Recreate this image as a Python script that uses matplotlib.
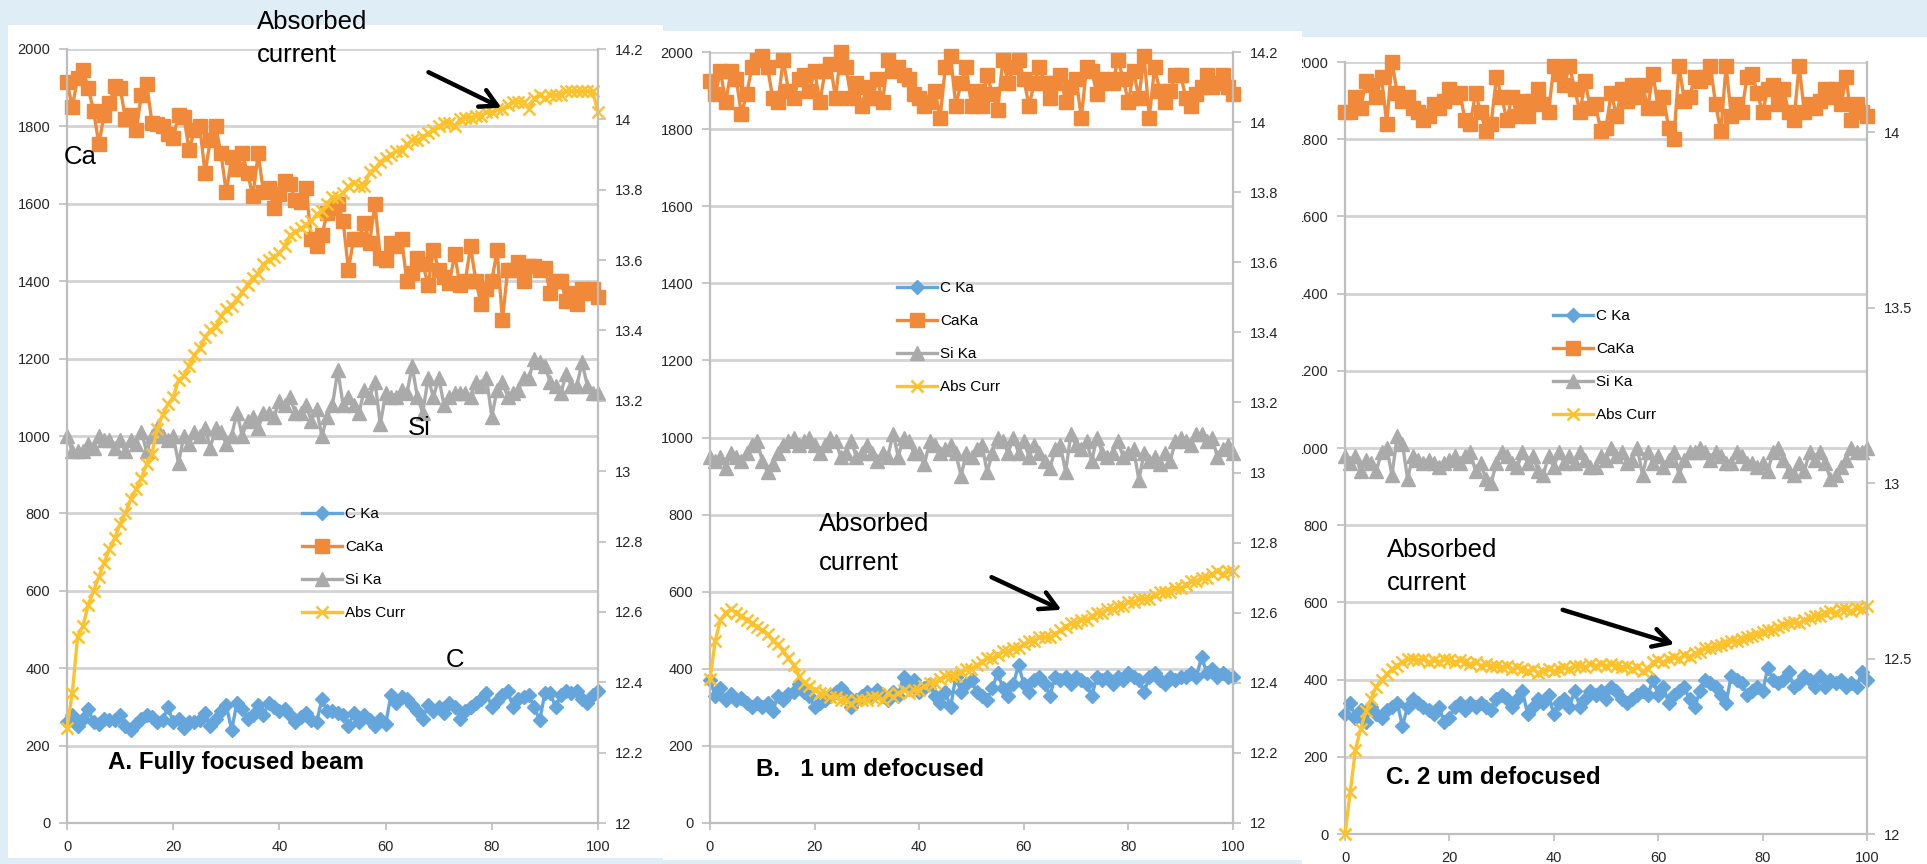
import matplotlib
matplotlib.use("Agg")
import matplotlib.pyplot as plt
from matplotlib.patches import Rectangle, FancyArrowPatch
from matplotlib.ticker import FixedLocator, FuncFormatter

W, H, DPI = 1927, 864, 100

# ---------------------------------------------------------------- data
x = list(range(101))
series_names = ["C Ka", "CaKa", "Si Ka", "Abs Curr"]
left_ticks = [0, 200, 400, 600, 800, 1000, 1200, 1400, 1600, 1800, 2000]
x_ticks = [0, 20, 40, 60, 80, 100]
right_ticks_fine = [12, 12.2, 12.4, 12.6, 12.8, 13, 13.2, 13.4, 13.6, 13.8, 14, 14.2]
right_ticks_coarse = [12, 12.5, 13, 13.5, 14]

# A. fully focused beam
a_c = [260, 280, 250, 270, 295, 260, 255, 270, 265, 265,
       280, 250, 240, 255, 270, 280, 275, 260, 265, 300,
       260, 270, 245, 260, 260, 265, 285, 250, 270, 290,
       305, 240, 310, 295, 270, 280, 305, 280, 310, 300,
       290, 295, 280, 260, 275, 285, 265, 260, 320, 290,
       290, 285, 280, 250, 285, 260, 280, 265, 250, 270,
       255, 330, 310, 325, 320, 305, 290, 270, 305, 290,
       300, 285, 310, 300, 270, 290, 300, 310, 320, 335,
       300, 315, 330, 340, 300, 320, 325, 330, 300, 265,
       335, 335, 300, 330, 340, 335, 340, 320, 310, 330,
       340]
a_ca = [1915, 1850, 1925, 1945, 1900, 1840, 1755, 1830, 1860, 1905,
        1900, 1820, 1830, 1790, 1880, 1910, 1810, 1805, 1800, 1780,
        1770, 1830, 1825, 1740, 1790, 1800, 1680, 1765, 1800, 1730,
        1630, 1720, 1690, 1730, 1680, 1620, 1730, 1630, 1640, 1590,
        1625, 1660, 1650, 1610, 1605, 1640, 1510, 1490, 1520, 1575,
        1590, 1600, 1555, 1430, 1510, 1510, 1550, 1500, 1600, 1460,
        1455, 1500, 1490, 1510, 1400, 1420, 1460, 1445, 1390, 1480,
        1430, 1410, 1395, 1470, 1390, 1400, 1490, 1400, 1340, 1380,
        1400, 1480, 1300, 1430, 1430, 1450, 1400, 1440, 1440, 1430,
        1435, 1370, 1400, 1400, 1350, 1370, 1340, 1380, 1370, 1380,
        1360]
a_si = [1000, 960, 960, 960, 980, 970, 1000, 990, 990, 970,
        990, 960, 990, 980, 1010, 960, 1000, 1020, 1000, 990,
        1000, 930, 1000, 980, 1010, 1000, 1020, 970, 1020, 1010,
        980, 1000, 1060, 1000, 1040, 1050, 1020, 1060, 1060, 1050,
        1090, 1080, 1100, 1060, 1060, 1080, 1040, 1070, 1000, 1050,
        1080, 1170, 1080, 1100, 1080, 1060, 1120, 1100, 1140, 1030,
        1110, 1100, 1100, 1120, 1110, 1180, 1100, 1060, 1150, 1100,
        1150, 1080, 1100, 1110, 1110, 1110, 1100, 1140, 1130, 1150,
        1050, 1120, 1140, 1100, 1110, 1120, 1150, 1150, 1200, 1190,
        1180, 1140, 1130, 1110, 1160, 1130, 1130, 1190, 1130, 1110,
        1110]
a_abs = [12.27, 12.37, 12.53, 12.56, 12.62, 12.66, 12.70, 12.74, 12.78, 12.81,
         12.85, 12.88, 12.92, 12.95, 12.98, 13.02, 13.05, 13.12, 13.16, 13.19,
         13.21, 13.26, 13.27, 13.30, 13.33, 13.35, 13.38, 13.40, 13.41, 13.44,
         13.46, 13.47, 13.49, 13.51, 13.53, 13.55, 13.56, 13.59, 13.60, 13.61,
         13.62, 13.64, 13.67, 13.68, 13.69, 13.70, 13.71, 13.73, 13.74, 13.76,
         13.78, 13.78, 13.79, 13.81, 13.82, 13.81, 13.81, 13.85, 13.86, 13.88,
         13.89, 13.90, 13.91, 13.91, 13.93, 13.94, 13.94, 13.95, 13.96, 13.97,
         13.98, 13.99, 13.99, 13.98, 14.00, 14.005, 14.005, 14.01, 14.01, 14.02,
         14.02, 14.03, 14.03, 14.04, 14.05, 14.05, 14.05, 14.03, 14.06, 14.07,
         14.06, 14.07, 14.07, 14.07, 14.08, 14.08, 14.08, 14.08, 14.08, 14.08,
         14.02]

# B. 1 um defocused
b_c = [370, 330, 350, 320, 335, 320, 325, 310, 300, 310,
       300, 310, 290, 330, 320, 335, 340, 360, 340, 330,
       300, 310, 320, 330, 340, 350, 335, 300, 320, 330,
       340, 330, 345, 330, 320, 340, 330, 380, 360, 370,
       340, 350, 360, 330, 310, 340, 300, 380, 340, 360,
       370, 340, 330, 320, 350, 390, 350, 330, 360, 410,
       360, 340, 370, 380, 360, 330, 380, 370, 380, 360,
       380, 370, 360, 330, 380, 370, 380, 360, 380, 370,
       390, 380, 370, 340, 380, 390, 370, 360, 380, 370,
       380, 380, 390, 380, 430, 390, 400, 380, 390, 380,
       380]
b_ca = [1925, 1890, 1950, 1870, 1950, 1930, 1840, 1890, 1960, 1980,
        1990, 1960, 1880, 1870, 1980, 1900, 1880, 1930, 1940, 1900,
        1950, 1870, 1950, 1970, 1880, 2000, 1960, 1880, 1920, 1860,
        1910, 1880, 1930, 1870, 1980, 1950, 1960, 1940, 1930, 1890,
        1880, 1860, 1870, 1900, 1830, 1960, 1990, 1860, 1920, 1960,
        1860, 1900, 1860, 1940, 1890, 1850, 1980, 1920, 1960, 1980,
        1930, 1860, 1920, 1960, 1920, 1880, 1920, 1940, 1870, 1910,
        1930, 1830, 1960, 1950, 1890, 1920, 1930, 1920, 1980, 1930,
        1870, 1950, 1880, 1990, 1830, 1960, 1900, 1870, 1900, 1940,
        1940, 1880, 1860, 1890, 1910, 1940, 1910, 1920, 1940, 1910,
        1890]
b_si = [950, 940, 950, 920, 960, 950, 940, 960, 980, 990,
        940, 910, 930, 960, 980, 990, 1000, 980, 990, 1000,
        980, 960, 980, 1000, 990, 950, 960, 990, 950, 960,
        980, 960, 940, 960, 950, 1010, 950, 1000, 990, 960,
        960, 930, 990, 980, 960, 970, 980, 960, 900, 960,
        950, 970, 980, 910, 960, 1000, 990, 960, 1000, 960,
        990, 950, 980, 960, 940, 920, 970, 980, 910, 1010,
        980, 970, 990, 940, 1000, 960, 950, 960, 990, 950,
        960, 970, 890, 960, 940, 950, 930, 960, 940, 990,
        1000, 990, 980, 1010, 1010, 990, 1000, 950, 970, 980,
        960]
b_abs = [12.41, 12.52, 12.58, 12.60, 12.61, 12.60, 12.59, 12.58, 12.57, 12.56,
         12.55, 12.54, 12.52, 12.51, 12.49, 12.47, 12.45, 12.42, 12.40, 12.39,
         12.38, 12.37, 12.37, 12.36, 12.36, 12.35, 12.35, 12.34, 12.35, 12.35,
         12.35, 12.36, 12.36, 12.35, 12.37, 12.36, 12.37, 12.38, 12.37, 12.38,
         12.38, 12.39, 12.40, 12.40, 12.41, 12.42, 12.42, 12.42, 12.43, 12.44,
         12.44, 12.45, 12.46, 12.47, 12.47, 12.48, 12.49, 12.49, 12.50, 12.50,
         12.51, 12.52, 12.52, 12.53, 12.53, 12.53, 12.54, 12.55, 12.56, 12.57,
         12.57, 12.58, 12.58, 12.59, 12.60, 12.60, 12.61, 12.61, 12.62, 12.62,
         12.63, 12.63, 12.64, 12.64, 12.64, 12.65, 12.66, 12.66, 12.66, 12.67,
         12.67, 12.68, 12.69, 12.69, 12.70, 12.70, 12.71, 12.72, 12.71, 12.72,
         12.72]

# C. 2 um defocused
c_c = [310, 340, 300, 320, 290, 330, 310, 300, 320, 330,
       340, 280, 330, 350, 340, 330, 320, 310, 330, 290,
       300, 330, 340, 320, 340, 330, 340, 330, 320, 350,
       360, 350, 330, 350, 370, 310, 330, 350, 340, 360,
       310, 340, 350, 330, 370, 330, 350, 370, 360, 370,
       350, 380, 370, 350, 340, 350, 360, 370, 360, 400,
       360, 380, 340, 360, 370, 380, 350, 330, 370, 400,
       390, 380, 360, 340, 410, 400, 390, 360, 370, 380,
       370, 430, 400, 390, 400, 420, 380, 390, 410, 400,
       380, 410, 380, 400, 390, 400, 380, 390, 380, 420,
       400]
c_ca = [1870, 1870, 1910, 1880, 1950, 1940, 1910, 1960, 1840, 2000,
        1920, 1900, 1910, 1880, 1870, 1850, 1860, 1890, 1880, 1900,
        1930, 1910, 1920, 1850, 1840, 1920, 1870, 1820, 1840, 1960,
        1910, 1850, 1910, 1860, 1900, 1860, 1900, 1930, 1890, 1870,
        1990, 1970, 1940, 1990, 1930, 1870, 1950, 1880, 1890, 1820,
        1830, 1920, 1860, 1930, 1900, 1940, 1910, 1940, 1880, 1970,
        1880, 1910, 1830, 1800, 1990, 1900, 1910, 1960, 1950, 1960,
        1990, 1890, 1820, 1990, 1860, 1890, 1870, 1960, 1970, 1920,
        1870, 1930, 1940, 1890, 1930, 1870, 1850, 1990, 1870, 1890,
        1880, 1900, 1930, 1910, 1930, 1890, 1960, 1850, 1890, 1870,
        1860]
c_si = [980, 960, 980, 940, 970, 960, 940, 990, 1000, 930,
        1030, 1010, 920, 980, 970, 960, 970, 960, 950, 960,
        970, 980, 960, 980, 990, 940, 960, 920, 910, 960,
        990, 980, 960, 950, 990, 960, 980, 940, 930, 980,
        950, 990, 960, 980, 960, 990, 970, 950, 950, 980,
        970, 1000, 980, 990, 960, 970, 1000, 930, 990, 960,
        980, 950, 970, 990, 930, 970, 990, 990, 1000, 990,
        970, 990, 980, 960, 960, 990, 980, 960, 960, 950,
        960, 940, 990, 1000, 970, 940, 930, 960, 940, 990,
        970, 990, 960, 920, 930, 950, 970, 1000, 990, 990,
        1000]
c_abs = [12.00, 12.12, 12.24, 12.30, 12.35, 12.385, 12.42, 12.44, 12.455, 12.47,
         12.48, 12.49, 12.50, 12.50, 12.495, 12.50, 12.49, 12.495, 12.49, 12.50,
         12.495, 12.49, 12.495, 12.49, 12.485, 12.49, 12.48, 12.485, 12.48, 12.48,
         12.475, 12.48, 12.47, 12.475, 12.47, 12.465, 12.47, 12.46, 12.465, 12.47,
         12.465, 12.47, 12.475, 12.47, 12.48, 12.48, 12.475, 12.485, 12.48, 12.485,
         12.48, 12.485, 12.48, 12.475, 12.48, 12.47, 12.475, 12.465, 12.47, 12.49,
         12.495, 12.49, 12.50, 12.505, 12.50, 12.51, 12.505, 12.515, 12.52, 12.53,
         12.53, 12.535, 12.54, 12.545, 12.55, 12.55, 12.555, 12.56, 12.565, 12.57,
         12.575, 12.58, 12.58, 12.59, 12.595, 12.60, 12.605, 12.60, 12.61, 12.615,
         12.62, 12.62, 12.63, 12.635, 12.63, 12.64, 12.64, 12.635, 12.645, 12.64,
         12.65]

# ---------------------------------------------------------------- styling
BG = "#DEEDF6"
GRID = "#D3D3D3"
SPINE = "#BEBEBE"
TICK_FONT = ["Liberation Sans Narrow", "Liberation Sans", "DejaVu Sans"]
NOTE_FONT = ["Liberation Sans", "DejaVu Sans"]

styles = [
    dict(color="#64A5DC", marker="D", markersize=7.5, lw=2.4),
    dict(color="#F08A3A", marker="s", markersize=9.5, lw=2.4),
    dict(color="#AAAAAA", marker="^", markersize=9.5, lw=2.4),
    dict(color="#FDC22C", marker="x", markersize=8, mew=1.8, lw=2.4),
]


def fx(px):
    return px / W


def fy(py):
    return 1 - py / H


def rect(x0, y0, x1, y1):
    return [fx(x0), fy(y1), (x1 - x0) / W, (y1 - y0) / H]


fig = plt.figure(figsize=(W / DPI, H / DPI), dpi=DPI)
fig.patch.set_facecolor(BG)


def panel_background(x0, y0, x1, y1, z):
    fig.add_artist(Rectangle((fx(x0), fy(y1)), (x1 - x0) / W, (y1 - y0) / H,
                             transform=fig.transFigure, facecolor="white",
                             edgecolor="none", zorder=z))


def draw_chart(axbox, z, c, ca, si, ab, rticks, legend_xy):
    ax = fig.add_axes(rect(*axbox))
    ax.set_zorder(z)
    ax.patch.set_visible(False)
    ax2 = ax.twinx()
    ax2.set_zorder(z + 0.1)
    ax2.patch.set_visible(False)

    lines = []
    for vals, st, name in zip([c, ca, si], styles[:3], series_names[:3]):
        ln, = ax.plot(x, vals, label=name, clip_on=False, **st)
        lines.append(ln)
    ln, = ax2.plot(x, ab, label=series_names[3], clip_on=False, **styles[3])
    lines.append(ln)

    ax.set_xlim(0, 100)
    ax.set_ylim(0, 2000)
    ax2.set_ylim(12, 14.2)

    ax.xaxis.set_major_locator(FixedLocator(x_ticks))
    ax.yaxis.set_major_locator(FixedLocator(left_ticks))
    ax2.yaxis.set_major_locator(FixedLocator(rticks))
    ax2.yaxis.set_major_formatter(FuncFormatter(lambda v, p: f"{v:g}"))

    ax.set_axisbelow(True)
    ax.yaxis.grid(True, color=GRID, lw=2.0)

    for a in (ax, ax2):
        for s in a.spines.values():
            s.set_visible(False)
    ax.spines["left"].set_visible(True)
    ax.spines["bottom"].set_visible(True)
    ax2.spines["right"].set_visible(True)
    for s in (ax.spines["left"], ax.spines["bottom"], ax2.spines["right"]):
        s.set_color(SPINE)
        s.set_linewidth(1.6)

    tick_kw = dict(direction="out", width=1.2, color=SPINE,
                   labelsize=10.5, labelcolor="#262626")
    ax.tick_params(axis="y", length=6, pad=6, **tick_kw)
    ax.tick_params(axis="x", length=5, pad=7, **tick_kw)
    ax2.tick_params(axis="y", length=6, pad=6, **tick_kw)
    for lab in ax.get_xticklabels() + ax.get_yticklabels() + ax2.get_yticklabels():
        lab.set_family(TICK_FONT)

    ax2.legend(lines, series_names, loc="upper left",
               bbox_to_anchor=(fx(legend_xy[0]), fy(legend_xy[1])),
               bbox_transform=fig.transFigure, frameon=False, borderpad=0,
               borderaxespad=0, handlelength=2.6, handletextpad=0.2,
               labelspacing=1.25, prop=dict(family=TICK_FONT, size=11))
    return ax, ax2


# panel C sits underneath panel B, which clips its left labels
panel_background(1302, 37, 1927, 864, -6)
draw_chart((1345, 62, 1867, 834), -5, c_c, c_ca, c_si, c_abs,
           right_ticks_coarse, (1553, 309))

panel_background(663, 31, 1302, 860, -3)
draw_chart((710, 52, 1233, 823), 0, b_c, b_ca, b_si, b_abs,
           right_ticks_fine, (897, 281))

panel_background(8, 25, 663, 858, -3)
draw_chart((67, 49, 598, 823), 0, a_c, a_ca, a_si, a_abs,
           right_ticks_fine, (302, 507))


def note(px, py, s, size=18.5, weight="normal"):
    fig.text(fx(px), fy(py), s, ha="left", va="center", fontsize=size,
             family=NOTE_FONT, fontweight=weight, color="black", zorder=20)


def arrow(p0, p1):
    fig.add_artist(FancyArrowPatch((fx(p0[0]), fy(p0[1])), (fx(p1[0]), fy(p1[1])),
                                   transform=fig.transFigure,
                                   arrowstyle="->,head_length=0.55,head_width=0.3",
                                   mutation_scale=22, lw=3.2, color="black",
                                   zorder=20))


# panel A notes
note(257, 22, "Absorbed")
note(257, 55, "current")
arrow((426, 71), (504, 109))
note(64, 157, "Ca")
note(408, 428, "Si")
note(446, 660, "C")
note(108, 763, "A. Fully focused beam", size=17.4, weight="bold")

# panel B notes
note(819, 524, "Absorbed")
note(819, 563, "current")
arrow((989, 576), (1064, 611))
note(756, 769, "B.   1 um defocused", size=17.4, weight="bold")

# panel C notes
note(1387, 550, "Absorbed")
note(1387, 583, "current")
arrow((1560, 609), (1677, 645))
note(1386, 777, "C. 2 um defocused", size=17.4, weight="bold")

fig.savefig("out.png", dpi=DPI, facecolor=BG)
